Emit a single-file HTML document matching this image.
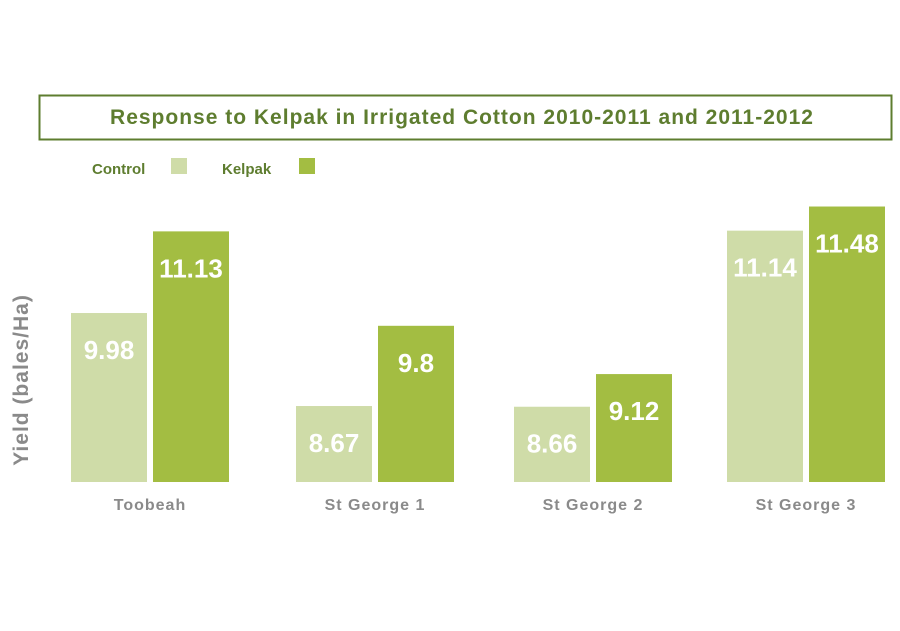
<!DOCTYPE html>
<html><head><meta charset="utf-8"><style>
body{margin:0;background:#fff;font-family:"Liberation Sans",sans-serif}
</style></head><body>
<svg width="900" height="626" viewBox="0 0 900 626" xmlns="http://www.w3.org/2000/svg">
<rect x="39.5" y="95.5" width="852" height="44" fill="#fff" stroke="#5e7d2f" stroke-width="2"/>
<text x="462" y="124" text-anchor="middle" font-size="21" font-weight="bold" fill="#5e7d2f" letter-spacing="1">Response to Kelpak in Irrigated Cotton 2010-2011 and 2011-2012</text>
<text x="92" y="174" font-size="15" font-weight="bold" fill="#5e7d2f">Control</text>
<rect x="171" y="158" width="16" height="16" fill="#cfdca8"/>
<text x="222" y="174" font-size="15" font-weight="bold" fill="#5e7d2f">Kelpak</text>
<rect x="299" y="158" width="16" height="16" fill="#a3bd42"/>
<text transform="translate(28,380) rotate(-90)" text-anchor="middle" font-size="21" font-weight="bold" fill="#8a8a8a" letter-spacing="1">Yield (bales/Ha)</text>
<g id="bars"></g>
</svg>
<script>
const categories=["Toobeah","St George 1","St George 2","St George 3"];
const controlValues=[9.98,8.67,8.66,11.14];
const kelpakValues=[11.13,9.8,9.12,11.48];
const controlLabels=["9.98","8.67","8.66","11.14"];
const kelpakLabels=["11.13","9.8","9.12","11.48"];
const NS="http://www.w3.org/2000/svg";
const baseY=482, baseV=7.6, k=71;
function y(v){return baseY-(v-baseV)*k;}
const groupX=[71,296,514,727];
const g=document.getElementById('bars');
function bar(x,v,lab,color,name){
 const r=document.createElementNS(NS,'rect');
 r.setAttribute('x',x);r.setAttribute('y',y(v));r.setAttribute('width',76);r.setAttribute('height',baseY-y(v));r.setAttribute('fill',color);
 
 
 g.appendChild(r);
 const t=document.createElementNS(NS,'text');
 t.setAttribute('x',x+38);t.setAttribute('y',y(v)+46);t.setAttribute('text-anchor','middle');
 t.setAttribute('font-size','26');t.setAttribute('font-weight','bold');t.setAttribute('fill','#fff');
 t.textContent=lab;
 
 
 g.appendChild(t);
}
categories.forEach((c,i)=>{
 const x=groupX[i];
 bar(x,controlValues[i],controlLabels[i],'#cfdca8','bar-control-'+i);
 bar(x+82,kelpakValues[i],kelpakLabels[i],'#a3bd42','bar-kelpak-'+i);
 const t=document.createElementNS(NS,'text');
 t.setAttribute('x',x+79);t.setAttribute('y',510);t.setAttribute('text-anchor','middle');
 t.setAttribute('font-size','16');t.setAttribute('font-weight','bold');t.setAttribute('fill','#8a8a8a');t.setAttribute('letter-spacing','1');
 t.textContent=c;
 
 
 g.appendChild(t);
});
</script>
</body></html>
